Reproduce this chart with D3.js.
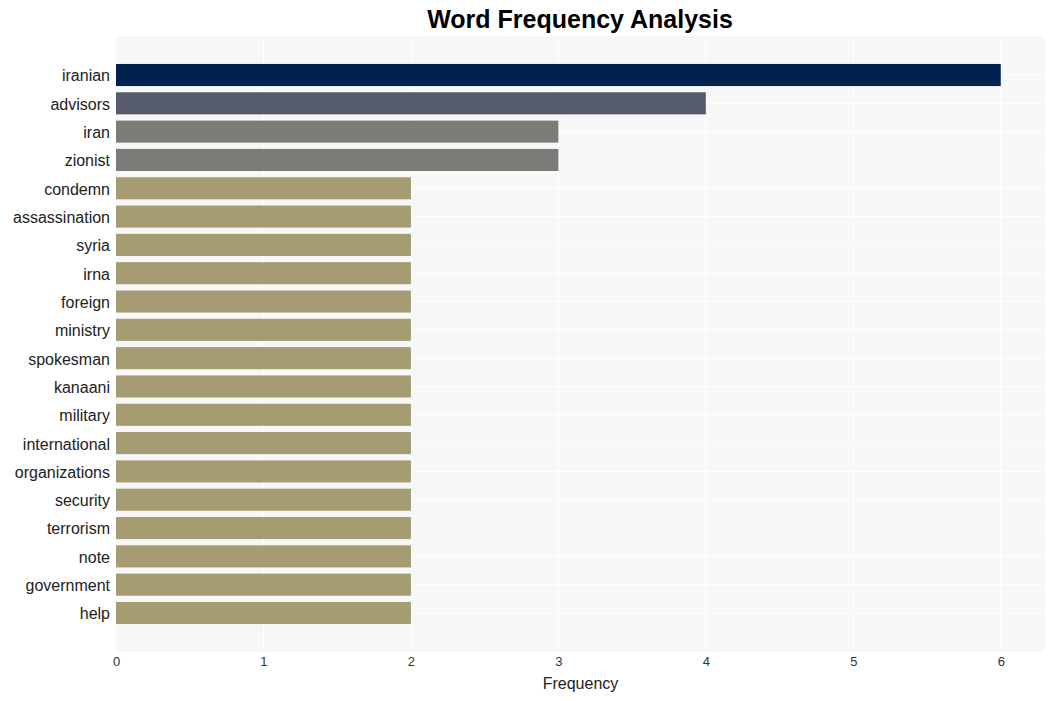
<!DOCTYPE html>
<html><head><meta charset="utf-8">
<script src="https://cdn.jsdelivr.net/npm/d3@7"></script>
<style>body{margin:0;background:#fff;font-family:"Liberation Sans",Arial,sans-serif;}</style>
</head><body><svg id="c" width="1055" height="701"></svg>
<script>
const words = ["iranian","advisors","iran","zionist","condemn","assassination","syria","irna","foreign","ministry","spokesman","kanaani","military","international","organizations","security","terrorism","note","government","help"];
const counts = [6,4,3,3,2,2,2,2,2,2,2,2,2,2,2,2,2,2,2,2];
const colors = ["#00224e","#575c6d","#7c7b78","#7c7b78","#a59c74","#a59c74","#a59c74","#a59c74","#a59c74","#a59c74","#a59c74","#a59c74","#a59c74","#a59c74","#a59c74","#a59c74","#a59c74","#a59c74","#a59c74","#a59c74"];
const xTicks = [0,1,2,3,4,5,6];

const svg = d3.select("#c");
const L=116,R=1045,T=36,B=652;
const x = d3.scaleLinear().domain([0,6.3]).range([L,R]);
const y = d3.scaleBand().domain(words).range([60.85,627.15]).paddingInner(0.22).paddingOuter(0.11);

svg.append("rect").attr("x",L).attr("y",T).attr("width",R-L).attr("height",B-T).attr("fill","#f7f7f7");
svg.append("g").selectAll("line").data(xTicks).join("line")
  .attr("x1",d=>x(d)).attr("x2",d=>x(d)).attr("y1",T).attr("y2",B)
  .attr("stroke","#fff").attr("stroke-width",1);
svg.append("g").selectAll("line").data(words).join("line")
  .attr("x1",L).attr("x2",R).attr("y1",d=>y(d)+y.bandwidth()/2).attr("y2",d=>y(d)+y.bandwidth()/2)
  .attr("stroke","#fff").attr("stroke-width",1);

svg.append("g").selectAll("rect").data(words).join("rect")
  .attr("x",x(0)).attr("y",d=>y(d)).attr("height",y.bandwidth())
  .attr("width",(d,i)=>x(counts[i])-x(0)).attr("fill",(d,i)=>colors[i]);

const xa = svg.append("g").attr("transform",`translate(0,${B})`)
  .call(d3.axisBottom(x).tickValues(xTicks).tickSize(0).tickPadding(5).tickFormat(d3.format("d")));
xa.select(".domain").remove();
xa.selectAll("text").attr("font-size","13px").attr("fill","#333").attr("font-family","Liberation Sans, Arial, sans-serif");

const ya = svg.append("g").attr("transform",`translate(${L},0)`)
  .call(d3.axisLeft(y).tickSize(0).tickPadding(6));
ya.select(".domain").remove();
ya.selectAll("text").attr("font-size","16px").attr("fill","#222").attr("dy","0.4em").attr("font-family","Liberation Sans, Arial, sans-serif");

svg.append("text").attr("x",(L+R)/2).attr("y",689).attr("text-anchor","middle")
  .attr("font-size","16px").attr("fill","#222").text("Frequency");
svg.append("text").attr("x",580).attr("y",28).attr("text-anchor","middle")
  .attr("font-size","25px").attr("font-weight","bold").attr("fill","#000").text("Word Frequency Analysis");
</script></body></html>
